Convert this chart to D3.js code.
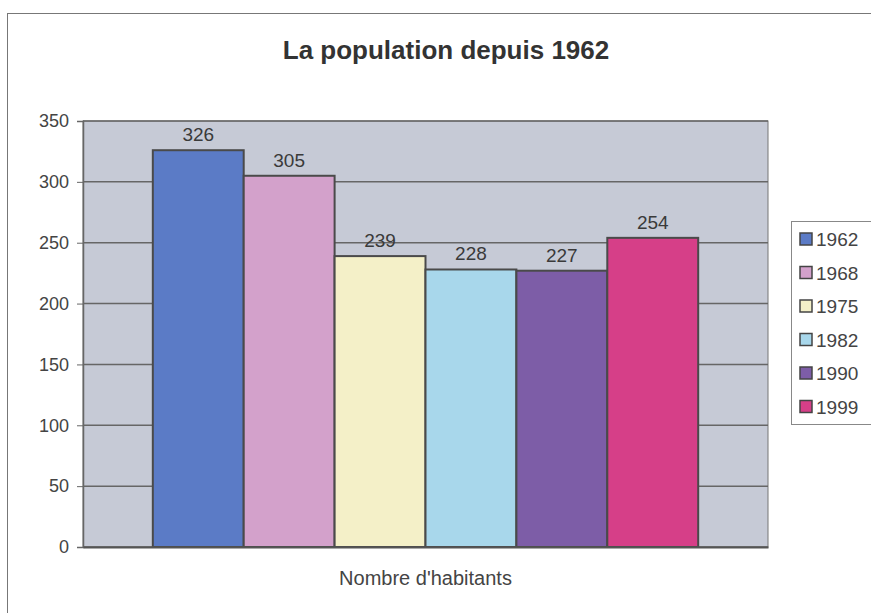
<!DOCTYPE html>
<html>
<head>
<meta charset="utf-8">
<script src="https://cdn.jsdelivr.net/npm/d3@7"></script>
<style>
  body { margin: 0; background: #fff; }
  text { font-family: "Liberation Sans", Arial, sans-serif; }
</style>
</head>
<body>
<div class="chart"></div>
<script>
const years = ["1962", "1968", "1975", "1982", "1990", "1999"]
const habitants = [326, 305, 239, 228, 227, 254]
const colors = ["#5b7bc6", "#d3a1cb", "#f4f0c8", "#a8d7eb", "#7d5da7", "#d63f88"]
const category = ["Nombre d'habitants"]
const yTicks = [0, 50, 100, 150, 200, 250, 300, 350]

const svgwidth = 871
const svgheight = 613
const margin = ({top: 121, right: 103, bottom: 66, left: 83})
const width = svgwidth - margin.left - margin.right
const height = svgheight - margin.top - margin.bottom

const root = d3.select(".chart").append("svg")
    .attr("width", svgwidth)
    .attr("height", svgheight)

// outer chart frame
root.append("rect")
    .attr("x", 7.5).attr("y", 13.5)
    .attr("width", 880).attr("height", 620)
    .attr("fill", "#fff")
    .attr("stroke", "#777")

root.append("text")
    .attr("x", 446).attr("y", 59)
    .attr("text-anchor", "middle")
    .attr("font-size", 26)
    .attr("font-weight", "bold")
    .attr("fill", "#333")
    .text("La population depuis 1962")

const svg = root.append("g")
    .attr("transform", `translate(${margin.left},${margin.top})`)

const x0 = d3.scaleBand().domain(category).range([0, width]).paddingOuter(0.128)
const x1 = d3.scaleBand().domain(years).range([0, x0.bandwidth()])
const y = d3.scaleLinear().domain([0, 350]).range([height, 0])
const color = d3.scaleOrdinal(years, colors)

svg.append("rect")
    .attr("width", width).attr("height", height)
    .attr("fill", "#c6cad6")
    .attr("stroke", "#777")

svg.append("g")
    .selectAll("line")
    .data(yTicks)
    .enter()
    .append("line")
    .attr("x1", 0).attr("x2", width)
    .attr("y1", d => y(d)).attr("y2", d => y(d))
    .attr("stroke", "#666")
    .attr("stroke-width", 1.5)

const data = years.map((yr, i) => ({year: yr, value: habitants[i]}))

svg.append("g")
    .attr("transform", `translate(${x0(category[0])},0)`)
    .selectAll("rect")
    .data(data)
    .enter()
    .append("rect")
    .attr("x", d => x1(d.year))
    .attr("y", d => y(d.value))
    .attr("width", x1.bandwidth())
    .attr("height", d => height - y(d.value))
    .attr("fill", d => color(d.year))
    .attr("stroke", "#4a4a4a")
    .attr("stroke-width", 2)

svg.append("g")
    .attr("transform", `translate(${x0(category[0])},0)`)
    .selectAll("text")
    .data(data)
    .enter()
    .append("text")
    .attr("x", d => x1(d.year) + x1.bandwidth() / 2)
    .attr("y", d => y(d.value) - 9)
    .attr("text-anchor", "middle")
    .attr("font-size", 19)
    .attr("fill", "#3a3a3a")
    .text(d => d.value)

const yAxis = d3.axisLeft(y).tickValues(yTicks).tickSize(6).tickPadding(8)
svg.append("g")
    .attr("class", "axis y-axis")
    .call(yAxis)
    .call(g => g.select(".domain").attr("stroke", "#666").attr("stroke-width", 1.5))
    .call(g => g.selectAll(".tick line").attr("stroke", "#666"))
    .call(g => g.selectAll(".tick text").attr("font-size", 18).attr("fill", "#444")
        .attr("font-family", "'Liberation Sans', Arial, sans-serif"))

const xAxis = d3.axisBottom(x0).tickSize(0).tickPadding(24)
svg.append("g")
    .attr("class", "axis x-axis")
    .attr("transform", `translate(0,${height})`)
    .call(xAxis)
    .call(g => g.select(".domain").attr("stroke", "#555").attr("stroke-width", 2))
    .call(g => g.selectAll(".tick text").attr("font-size", 20).attr("fill", "#444")
        .attr("font-family", "'Liberation Sans', Arial, sans-serif"))

// legend
const legend = root.append("g").attr("transform", "translate(791,221)")
legend.append("rect")
    .attr("x", 0.5).attr("y", 0.5)
    .attr("width", 100).attr("height", 203)
    .attr("fill", "#fff")
    .attr("stroke", "#888")

legend.selectAll("rect.key")
    .data(years)
    .enter()
    .append("rect")
    .attr("class", "key")
    .attr("x", 9)
    .attr("y", (d, i) => 12 + i * 33.5)
    .attr("width", 12).attr("height", 12)
    .attr("fill", d => color(d))
    .attr("stroke", "#444")
    .attr("stroke-width", 1.5)

legend.selectAll("text")
    .data(years)
    .enter()
    .append("text")
    .attr("x", 25)
    .attr("y", (d, i) => 25 + i * 33.5)
    .attr("font-size", 19)
    .attr("fill", "#444")
    .text(d => d)
</script>
</body>
</html>
